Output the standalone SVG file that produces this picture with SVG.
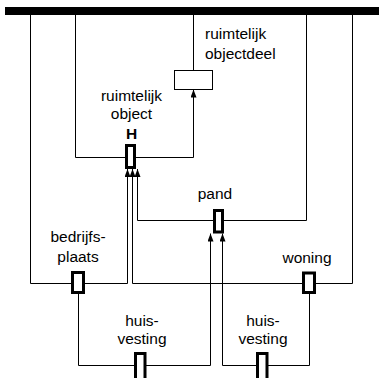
<svg xmlns="http://www.w3.org/2000/svg" width="379" height="378" viewBox="0 0 379 378">
<style>
.ln{fill:none;stroke:#000;stroke-width:1}
.bx{fill:#fff;stroke:#000;stroke-width:3}
.tb{fill:#fff;stroke:#000;stroke-width:1}
text{font-family:"Liberation Sans",Arial,sans-serif;font-size:15.5px;fill:#000}
.c{text-anchor:middle}
.b{font-weight:bold}
</style>
<defs>
<marker id="ah" markerUnits="userSpaceOnUse" markerWidth="8" markerHeight="6" refX="8" refY="3" orient="auto" viewBox="0 0 8 6">
<path d="M0,0 L8,3 L0,6 z" fill="#000"/>
</marker>
</defs>
<rect x="5" y="7" width="374" height="8" fill="#000"/>
<g id="connectors">
<path class="ln" d="M30.5,15 V283.5 H127.5 V169" marker-end="url(#ah)"/>
<path class="ln" d="M75.5,15 V157.5 H193.5 V89.5" marker-end="url(#ah)"/>
<path class="ln" d="M193.5,15 V70"/>
<path class="ln" d="M306.5,15 V220.5 H137.5 V169" marker-end="url(#ah)"/>
<path class="ln" d="M352.5,15 V283.5 H132.5 V169" marker-end="url(#ah)"/>
<path class="ln" d="M78.5,294 V365.5 H210.5 V233.5" marker-end="url(#ah)"/>
<path class="ln" d="M309.5,294 V365.5 H222.5 V233.5" marker-end="url(#ah)"/>
</g>
<g id="ruimtelijk-objectdeel">
<rect class="tb" x="174.5" y="70.5" width="38" height="19"/>
<text x="205" y="39">ruimtelijk</text>
<text x="205" y="59">objectdeel</text>
</g>
<g id="ruimtelijk-object">
<rect class="bx" x="126.5" y="145.5" width="8" height="22"/>
<text class="c" x="131.5" y="101">ruimtelijk</text>
<text class="c" x="131.5" y="119">object</text>
<text class="c b" x="131.5" y="139">H</text>
</g>
<g id="pand">
<rect class="bx" x="214.5" y="210.5" width="8" height="21.5"/>
<text class="c" x="215" y="199">pand</text>
</g>
<g id="bedrijfsplaats">
<rect class="bx" x="72.5" y="272.5" width="11" height="20"/>
<text class="c" x="78" y="242">bedrijfs-</text>
<text class="c" x="78" y="262">plaats</text>
</g>
<g id="woning">
<rect class="bx" x="303.5" y="273" width="11" height="19.5"/>
<text class="c" x="307" y="263">woning</text>
</g>
<g id="huisvesting-1">
<rect class="bx" x="135.5" y="353.5" width="9.5" height="26"/>
<text class="c" x="142" y="326">huis-</text>
<text class="c" x="142" y="344">vesting</text>
</g>
<g id="huisvesting-2">
<rect class="bx" x="257.5" y="353.5" width="9.5" height="26"/>
<text class="c" x="263" y="326">huis-</text>
<text class="c" x="263" y="344">vesting</text>
</g>
</svg>
